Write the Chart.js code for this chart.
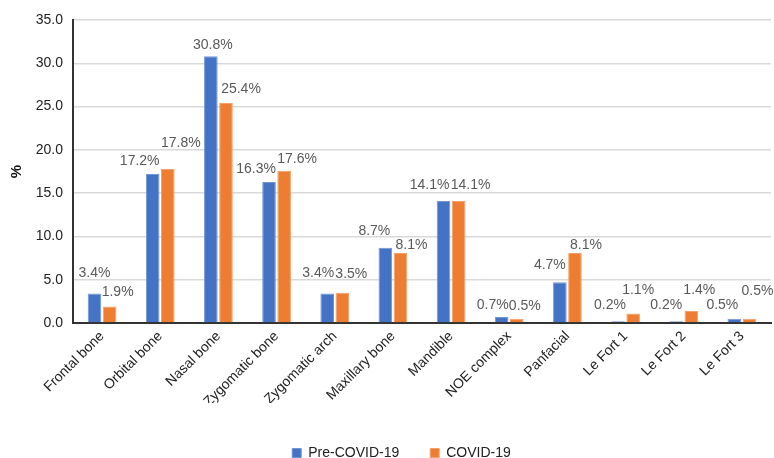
<!DOCTYPE html>
<html>
<head>
<meta charset="utf-8">
<script src="https://cdn.jsdelivr.net/npm/chart.js@4/dist/chart.umd.min.js"></script>
<style>
  html, body { margin: 0; padding: 0; background: #fff; }
  #wrap { width: 774px; height: 458px; }
</style>
</head>
<body>
<div id="wrap"><canvas id="c" width="774" height="458"></canvas></div>
<script>
const categories = ['Frontal bone', 'Orbital bone', 'Nasal bone', 'Zygomatic bone', 'Zygomatic arch',
  'Maxillary bone', 'Mandible', 'NOE complex', 'Panfacial', 'Le Fort 1', 'Le Fort 2', 'Le Fort 3'];
const preCovid = [3.4, 17.2, 30.8, 16.3, 3.4, 8.7, 14.1, 0.7, 4.7, 0.2, 0.2, 0.5];
const covid = [1.9, 17.8, 25.4, 17.6, 3.5, 8.1, 14.1, 0.5, 8.1, 1.1, 1.4, 0.5];
const seriesNames = ['Pre-COVID-19', 'COVID-19'];
const yTicks = [0, 5, 10, 15, 20, 25, 30, 35];

// hand-placed value label nudges (px): sideways shift and lift above the bar top
const labelDx = [
  [0, -13, 2, -13, -9, -11, -14, -9, -10, -8, -10, -12],
  [8, 13, 15, 13, 9, 11, 12, 8, 11, 5, 8, 8]
];
const labelLift = [
  [20, 13, 11, 13, 20, 17, 16, 12, 17, 16, 16, 14],
  [14, 26, 14, 11, 19, 8, 16, 13, 8, 23, 21, 28]
];

const FONT = '"Liberation Sans", Arial, sans-serif';

const valueLabels = {
  id: 'valueLabels',
  afterDatasetsDraw(chart) {
    const ctx = chart.ctx;
    ctx.save();
    ctx.font = '14px ' + FONT;
    ctx.fillStyle = '#595959';
    ctx.textAlign = 'center';
    ctx.textBaseline = 'middle';
    chart.data.datasets.forEach((ds, di) => {
      chart.getDatasetMeta(di).data.forEach((bar, i) => {
        ctx.fillText(ds.data[i].toFixed(1) + '%', bar.x + labelDx[di][i], bar.y - labelLift[di][i]);
      });
    });
    ctx.restore();
  }
};

// move the legend row a little right and down
const legendShift = {
  id: 'legendShift',
  afterLayout(chart) {
    const lg = chart.legend;
    if (lg) { lg.left += 14; lg.right += 14; lg.top += 12; lg.bottom += 12; }
  }
};

new Chart(document.getElementById('c'), {
  type: 'bar',
  data: {
    labels: categories,
    datasets: [
      { label: seriesNames[0], data: preCovid, backgroundColor: '#4472C4', borderColor: '#7096D6', borderWidth: 1 },
      { label: seriesNames[1], data: covid, backgroundColor: '#ED7D31', borderColor: '#F5A06A', borderWidth: 1 }
    ]
  },
  options: {
    responsive: false,
    animation: false,
    devicePixelRatio: 1,
    layout: { padding: { top: 20, right: 3, left: 4, bottom: 0 } },
    datasets: { bar: { categoryPercentage: 0.52, barPercentage: 0.9 } },
    plugins: {
      legend: {
        position: 'bottom',
        labels: {
          boxWidth: 9, boxHeight: 9, padding: 31,
          color: '#222',
          font: { family: FONT, size: 14 }
        }
      },
      tooltip: { enabled: false }
    },
    scales: {
      x: {
        afterFit(axis) { axis.height = 80; },
        grid: { display: false, drawTicks: false },
        border: { display: true, color: '#333', width: 2 },
        ticks: {
          minRotation: 45, maxRotation: 45, padding: 5,
          color: '#222',
          font: { family: FONT, size: 14 }
        }
      },
      y: {
        min: 0, max: 35,
        afterFit(axis) { axis.width = 69; },
        afterBuildTicks(axis) { axis.ticks = yTicks.map(v => ({ value: v })); },
        grid: { color: '#D9D9D9', lineWidth: 1.5, drawTicks: false },
        border: { display: true, color: '#333', width: 2 },
        title: {
          display: true, text: '%', color: '#111', padding: 4,
          font: { family: FONT, size: 15, weight: 'bold' }
        },
        ticks: {
          padding: 10,
          color: '#222',
          callback: v => v.toFixed(1),
          font: { family: FONT, size: 14 }
        }
      }
    }
  },
  plugins: [valueLabels, legendShift]
});
</script>
</body>
</html>
